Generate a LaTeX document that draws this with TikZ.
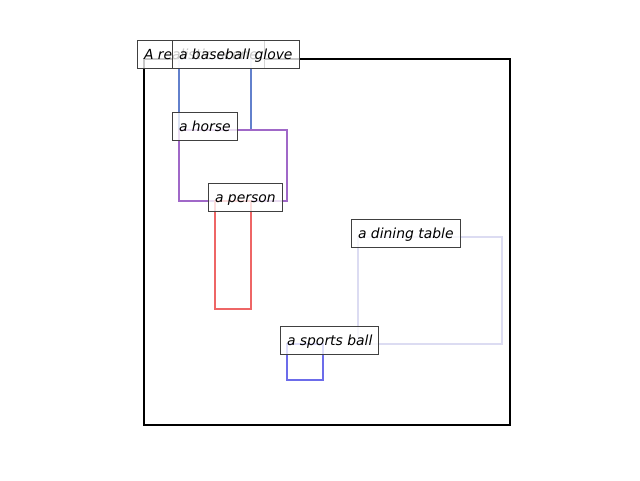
\documentclass[tikz,border=0pt]{standalone}
\usepackage{fontspec}
\setmainfont{DejaVu Sans}
\definecolor{glovecol}{RGB}{98,128,204}
\definecolor{horsecol}{RGB}{160,104,200}
\definecolor{personcol}{RGB}{238,102,102}
\definecolor{tablecol}{RGB}{220,220,242}
\definecolor{ballcol}{RGB}{108,108,234}
\definecolor{tagedge}{RGB}{64,64,64}
\tikzset{
  objbox/.style={line width=2.5pt},
  tag/.style={draw=tagedge, line width=1pt, fill=white, fill opacity=0.78,
    text opacity=1, anchor=west, minimum height=28pt, inner xsep=6.5pt,
    text height=12pt, text depth=1pt,
    font=\fontsize{13.9}{16}\selectfont\itshape}
}
\begin{document}
\begin{tikzpicture}[x=1pt,y=-1pt]
\useasboundingbox (0,0) rectangle (640,480);
% frame and boxes
\draw[line width=2pt] (144,59) rectangle (510,425);
\draw[objbox, glovecol] (179,59) rectangle (251,130);
\draw[objbox, horsecol] (179,130) rectangle (287,201);
\draw[objbox, personcol] (215,201) rectangle (251,309);
\draw[objbox, tablecol] (358,237) rectangle (502,344);
\draw[objbox, ballcol] (287,344) rectangle (323,380);
% labels
\node[tag] (scene) at (137,54) {A realistic scene};
\node[tag] (glove) at (172,54) {a baseball glove};
\node[tag] (horse) at (172,126) {a horse};
\node[tag] (person) at (208,197) {a person};
\node[tag] (table) at (351,233) {a dining table};
\node[tag] (ball) at (280,340) {a sports ball};
\end{tikzpicture}
\end{document}
